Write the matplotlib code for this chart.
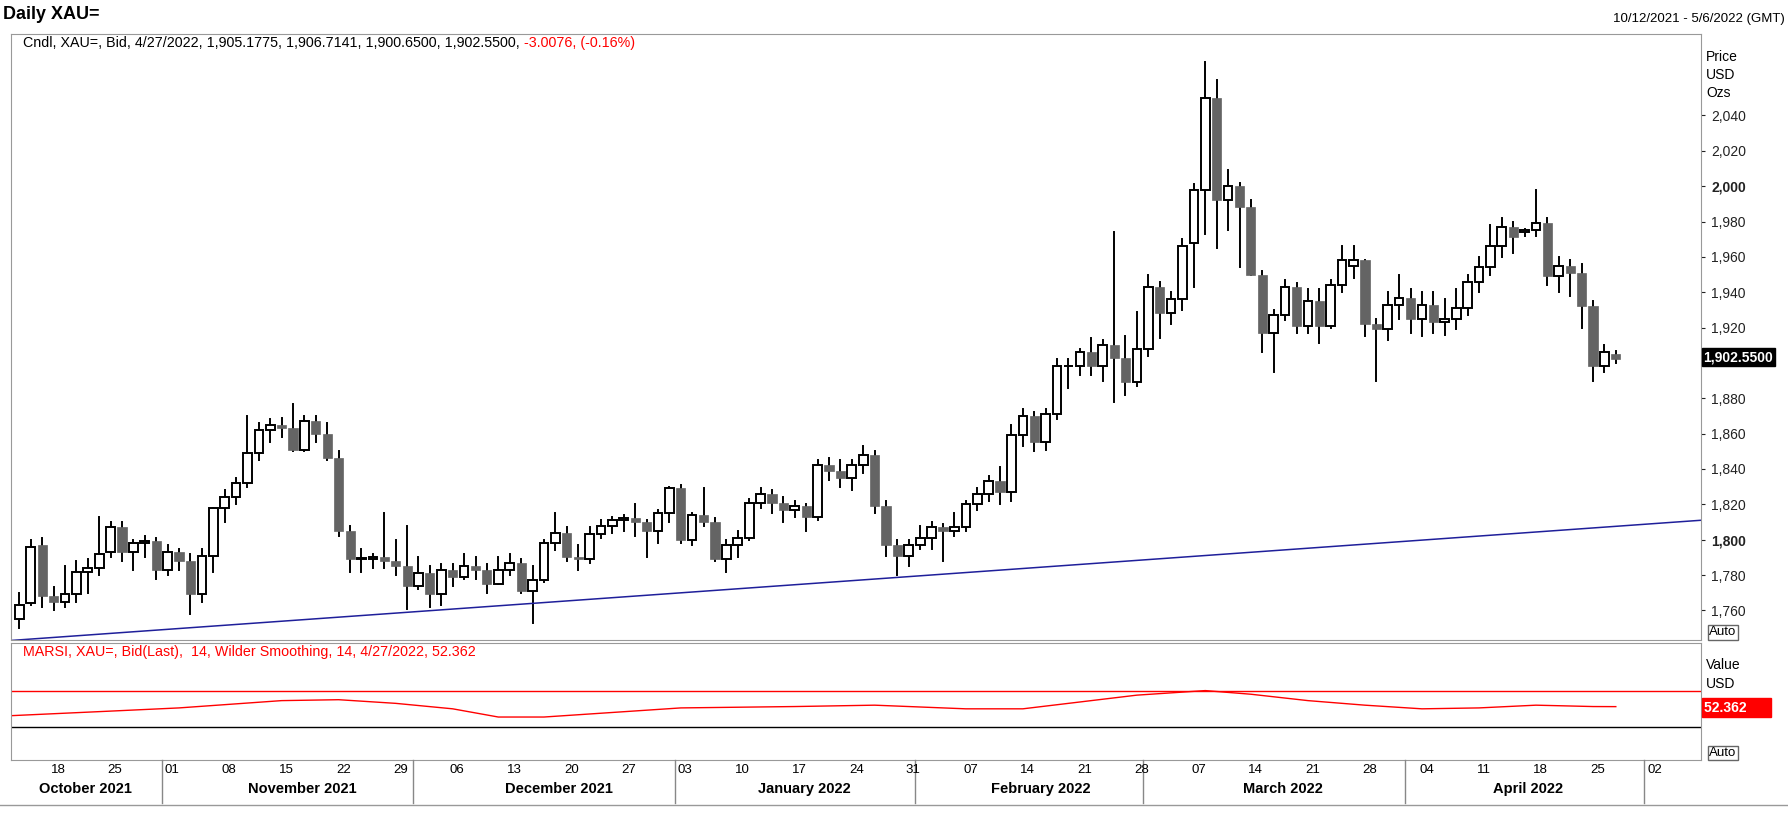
import numpy as np
import pandas as pd
import matplotlib
matplotlib.use('Agg')
import matplotlib.pyplot as plt
from matplotlib.patches import Rectangle
from matplotlib.transforms import blended_transform_factory

plt.rcParams['font.family'] = ['Liberation Sans', 'DejaVu Sans']

# daily XAU= candles, Oct 13 2021 .. Apr 27 2022 (business days)
dates = pd.bdate_range('2021-10-13', '2022-04-27')
ohlc = [
    (1755,1770,1750,1763),(1764,1800,1763,1796),(1797,1801,1762,1768),(1768,1773,1760,1765),
    (1765,1785,1762,1769),(1769,1788,1765,1782),(1782,1789,1770,1784),(1784,1813,1780,1792),
    (1793,1810,1790,1807),(1807,1810,1788,1793),(1793,1800,1783,1798),(1798,1802,1790,1799),
    (1799,1801,1778,1783),
    (1783,1797,1780,1793),(1793,1795,1783,1788),(1788,1792,1758,1769),(1769,1795,1765,1791),
    (1791,1818,1782,1818),(1818,1828,1810,1824),(1824,1835,1820,1832),(1832,1870,1830,1849),
    (1849,1866,1845,1862),(1862,1868,1855,1865),(1865,1869,1858,1863),(1863,1877,1850,1851),
    (1851,1870,1850,1867),(1867,1870,1855,1860),(1860,1866,1845,1846),(1846,1850,1802,1805),
    (1805,1808,1782,1789),(1789,1795,1782,1789),(1789,1792,1784,1790),(1790,1815,1784,1788),
    (1788,1800,1780,1785),(1785,1808,1761,1774),
    (1774,1790,1772,1781),(1781,1785,1762,1769),(1769,1786,1763,1783),(1783,1786,1774,1779),
    (1779,1792,1778,1785),(1785,1790,1778,1783),(1783,1786,1770,1775),(1775,1790,1775,1783),
    (1783,1792,1780,1787),(1787,1789,1770,1771),(1771,1785,1753,1777),(1777,1800,1776,1798),
    (1798,1815,1794,1804),(1804,1807,1788,1790),(1790,1797,1783,1789),(1789,1807,1787,1803),
    (1803,1811,1801,1808),(1808,1813,1804,1811),(1811,1814,1805,1812),(1812,1820,1802,1810),
    (1810,1811,1790,1805),(1805,1817,1798,1815),(1815,1830,1810,1829),
    (1829,1831,1798,1800),(1800,1815,1797,1814),(1814,1829,1808,1810),(1810,1812,1788,1789),
    (1789,1800,1782,1797),(1797,1805,1790,1801),(1801,1823,1800,1821),(1821,1829,1818,1826),
    (1826,1828,1815,1821),(1821,1824,1810,1817),(1817,1822,1813,1819),(1819,1820,1805,1813),
    (1813,1845,1811,1842),(1842,1846,1834,1839),(1839,1845,1830,1835),(1835,1845,1828,1842),
    (1842,1853,1838,1848),(1848,1850,1815,1819),(1819,1822,1791,1797),(1797,1800,1780,1791),
    (1791,1800,1785,1797),
    (1797,1808,1795,1801),(1801,1810,1795,1807),(1807,1809,1788,1805),(1805,1815,1802,1807),
    (1807,1822,1805,1820),(1820,1829,1817,1826),(1826,1836,1822,1833),(1833,1841,1820,1827),
    (1827,1865,1822,1859),(1859,1874,1853,1870),(1870,1872,1850,1855),(1855,1874,1851,1871),
    (1871,1902,1868,1898),(1898,1902,1886,1898),(1898,1908,1893,1906),(1906,1914,1893,1898),
    (1898,1913,1890,1910),(1910,1974,1878,1903),(1903,1915,1882,1889),(1889,1929,1887,1908),
    (1908,1950,1904,1943),(1943,1946,1914,1928),(1928,1940,1922,1936),(1936,1970,1930,1966),
    (1968,2001,1943,1998),(1998,2070,1973,2050),(2050,2060,1965,1992),(1992,2009,1975,2000),
    (2000,2002,1954,1988),(1988,1992,1950,1950),(1950,1952,1906,1917),(1917,1930,1895,1927),
    (1927,1947,1924,1943),(1943,1945,1917,1921),(1921,1942,1917,1935),(1935,1942,1911,1921),
    (1921,1947,1920,1944),(1944,1966,1940,1958),(1955,1966,1948,1958),(1958,1958,1915,1922),
    (1922,1925,1890,1919),(1919,1940,1913,1933),(1933,1950,1925,1937),
    (1937,1942,1917,1925),(1925,1940,1915,1933),(1933,1940,1917,1923),(1923,1936,1916,1925),
    (1925,1942,1919,1931),(1931,1950,1927,1946),(1946,1960,1940,1954),(1954,1978,1950,1966),
    (1966,1982,1960,1977),(1977,1980,1962,1971),(1974,1976,1972,1975),(1975,1998,1972,1979),
    (1979,1982,1944,1949),(1949,1960,1940,1955),(1955,1958,1938,1951),(1951,1956,1920,1932),
    (1932,1935,1890,1898),(1898,1910,1895,1906),(1905,1907,1900,1902),
]
opens = [c[0] for c in ohlc]
highs = [c[1] for c in ohlc]
lows = [c[2] for c in ohlc]
closes = [c[3] for c in ohlc]

# trend line ends (day index, price)
trend_x = [-0.7, 147.5]
trend_y = [1743, 1811]

# MA of RSI, read at these day indices
rsi_x = [-0.7, 8, 14, 23, 28, 33, 38, 42, 46, 52, 58, 68, 75, 83, 88, 93, 98, 104, 108, 113, 118, 123, 128, 133, 138, 140]
rsi_y = [42.5, 47.5, 51, 59, 60, 56, 50, 41, 41, 46, 51, 52.5, 54, 50, 50, 57.5, 65, 70, 66, 59, 54, 50, 51, 54, 52.5, 52.4]

day_ticks = ['18','25','01','08','15','22','29','06','13','20','27','03','10','17','24','31',
             '07','14','21','28','07','14','21','28','04','11','18','25','02']
months = ['October 2021','November 2021','December 2021','January 2022','February 2022',
          'March 2022','April 2022']

W, H = 1568.0, 727.0
def box(l, t, r, b):
    return [l / W, 1 - b / H, (r - l) / W, (b - t) / H]

fig = plt.figure(figsize=(17.88, 8.27), dpi=100)
ax = fig.add_axes(box(10, 30, 1492, 563))
ax2 = fig.add_axes(box(10, 565, 1492, 668), sharex=ax)

n = len(dates)
for i in range(n):
    o, h, l, c = opens[i], highs[i], lows[i], closes[i]
    ax.plot([i, i], [l, h], color='black', lw=1.4, zorder=1)
    if c >= o:
        ax.add_patch(Rectangle((i - 0.38, o), 0.76, max(c - o, 0.4), facecolor='white',
                               edgecolor='black', lw=1.4, zorder=2))
    else:
        ax.add_patch(Rectangle((i - 0.4, c), 0.8, o - c, facecolor='#646464',
                               edgecolor='#646464', lw=0.5, zorder=2))
ax.plot(trend_x, trend_y, color='#1f1f9a', lw=1.1)
ax.set_xlim(-0.7, 147.5)
ax.set_ylim(1743, 2086)

for a in (ax, ax2):
    for s in a.spines.values():
        s.set_color('#999999')
    a.tick_params(axis='x', which='both', bottom=False, labelbottom=False)

ax.yaxis.tick_right()
yt = list(range(1760, 2041, 20))
ax.set_yticks(yt)
ax.set_yticklabels(['' if v == 1900 else '{:,}'.format(v) for v in yt], fontsize=10)
ax.tick_params(axis='y', length=3, pad=4, colors='#222222')
for lab, v in zip(ax.get_yticklabels(), yt):
    if v in (1800, 2000):
        lab.set_fontweight('bold')

fx = lambda p: p / W
fy = lambda p: 1 - p / H
fig.text(fx(1496), fy(50), 'Price', fontsize=10, va='center')
fig.text(fx(1496), fy(66), 'USD', fontsize=10, va='center')
fig.text(fx(1496), fy(82), 'Ozs', fontsize=10, va='center')
fig.text(fx(1494), fy(314), '1,902.5500', fontsize=10, fontweight='bold', color='white', va='center',
         bbox=dict(boxstyle='square,pad=0.15', fc='black', ec='black'))
fig.text(fx(1499), fy(556), 'Auto', fontsize=9.5, va='center',
         bbox=dict(boxstyle='square,pad=0.1', fc='white', ec='#666666'))

# RSI panel
ax2.plot(rsi_x, rsi_y, color='red', lw=1)
ax2.axhline(70, color='red', lw=1)
ax2.axhline(30, color='black', lw=1)
ax2.set_ylim(-6, 122.5)
ax2.set_yticks([])
fig.text(fx(1496), fy(585), 'Value', fontsize=10, va='center')
fig.text(fx(1496), fy(601), 'USD', fontsize=10, va='center')
fig.text(fx(1494), fy(622), '52.362      ', fontsize=10, fontweight='bold', color='white', va='center',
         bbox=dict(boxstyle='square,pad=0.15', fc='#ff0000', ec='#ff0000'))
fig.text(fx(1499), fy(662), 'Auto', fontsize=9.5, va='center',
         bbox=dict(boxstyle='square,pad=0.1', fc='white', ec='#666666'))

# headers and legends
fig.text(fx(3), fy(13), 'Daily XAU=', fontsize=13, fontweight='bold', va='center')
fig.text(fx(1565), fy(17), '10/12/2021 - 5/6/2022 (GMT)', fontsize=9.5, ha='right', va='center')
leg = fig.text(fx(20), fy(38), 'Cndl, XAU=, Bid, 4/27/2022, 1,905.1775, 1,906.7141, 1,900.6500, 1,902.5500, ',
               fontsize=10.3, va='center')
fig.texts.append(None) if False else None
ax.annotate('-3.0076, (-0.16%)', xy=(1, 0.5), xycoords=leg, fontsize=10.3, va='center',
            color='red', annotation_clip=False)
fig.text(fx(20), fy(573), 'MARSI, XAU=, Bid(Last),  14, Wilder Smoothing, 14, 4/27/2022, 52.362',
         fontsize=10.3, va='center', color='red')

# date axis
all_days = pd.bdate_range('2021-10-13', '2022-05-06')
mondays = [i for i, d in enumerate(all_days) if d.weekday() == 0]
tr = blended_transform_factory(ax2.transData, fig.transFigure)
for i, lab in zip(mondays, day_ticks):
    fig.text(i + 0.4, fy(677), lab, transform=tr, fontsize=9.5, ha='center', va='center')
month_starts = [i for i in range(1, len(all_days)) if all_days[i].month != all_days[i - 1].month]
for i in month_starts:
    fig.add_artist(plt.Line2D([i - 0.5, i - 0.5], [fy(668), fy(706)], transform=tr,
                              color='#888888', lw=1))
month_px = [75, 265, 490, 705, 913, 1125, 1340]
for p, lab in zip(month_px, months):
    fig.text(fx(p), fy(694), lab, fontsize=10.5, fontweight='bold', ha='center', va='center')

fig.add_artist(plt.Line2D([fx(0), fx(1568)], [fy(708), fy(708)], color='#999999', lw=1))

fig.savefig('out.png', dpi=100)
